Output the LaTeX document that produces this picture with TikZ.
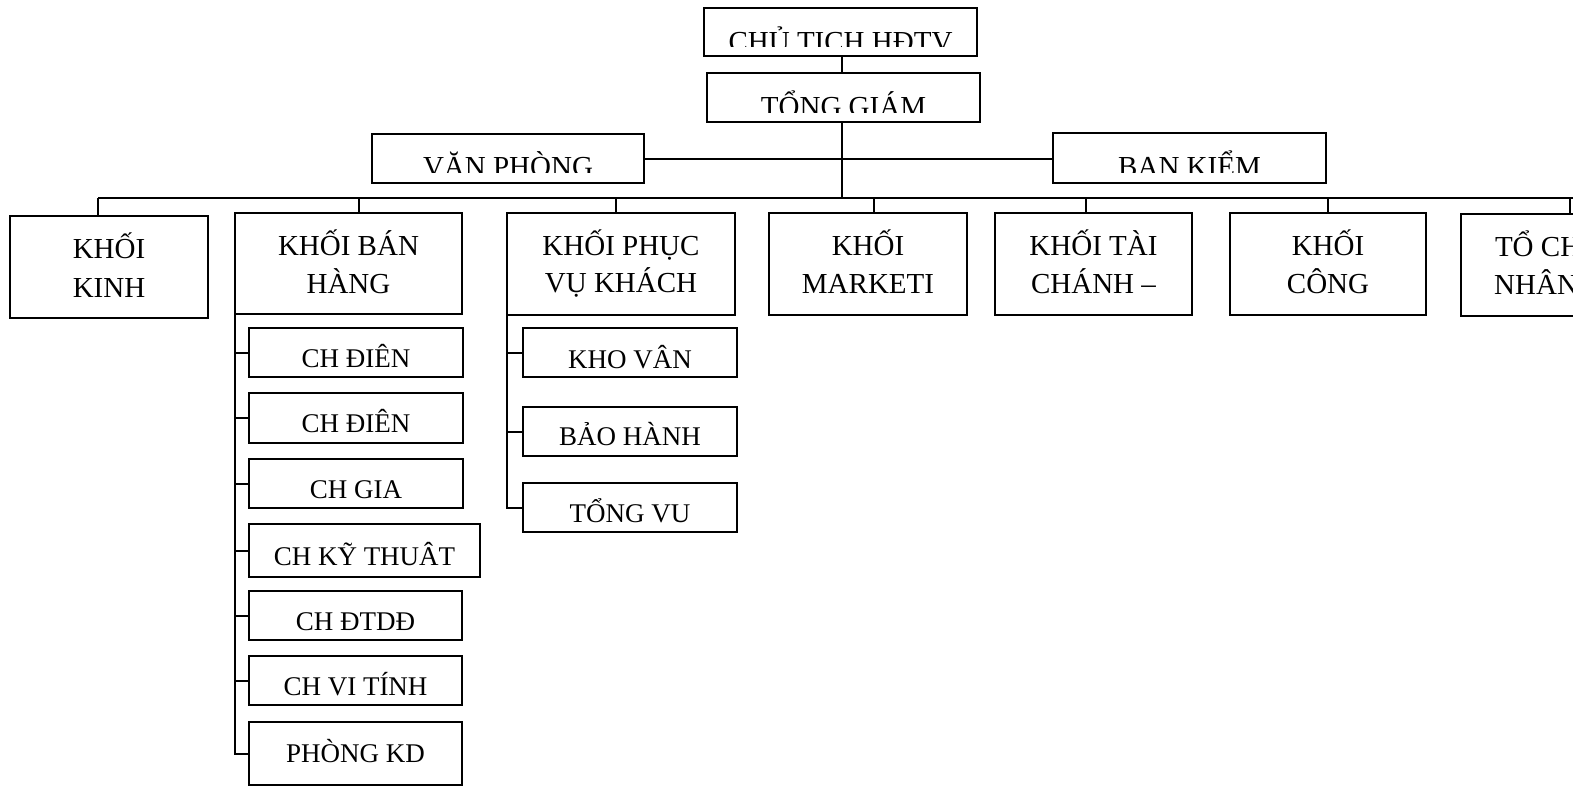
\documentclass[tikz,border=0pt]{standalone}
\usepackage{fontspec}
\setmainfont{Liberation Serif}
\usetikzlibrary{fit}
\tikzset{
  box/.style={draw, line width=1pt, inner sep=0pt, outer sep=0pt},
  link/.style={line width=1pt},
  big/.style={font=\fontsize{14.5}{17}\selectfont, inner sep=0pt, anchor=base},
  small/.style={font=\fontsize{13.5}{16}\selectfont, inner sep=0pt, anchor=base},
}
% #1 style, #2 name, #3 x1, #4 y1, #5 x2, #6 clip y, #7 baseline y, #8 text
\newcommand{\lbl}[8]{\begin{scope}\clip (#3,#4) rectangle (#5,#6);
  \node[#1] (#2) at ({(#3+#5)/2},#7) {#8};\end{scope}}
\begin{document}
\begin{tikzpicture}[x=0.5pt,y=-0.5pt]
\useasboundingbox (0,0) rectangle (1573,787);
\clip (0,0) rectangle (1573,787);

% top level
\node[box, fit={(704,8) (977,56)}] (cth) {};
\lbl{big}{cth-t}{704}{8}{977}{46}{51}{CHỦ TICH HĐTV}
\node[box, fit={(707,73) (980,122)}] (tgd) {};
\lbl{big}{tgd-t}{707}{73}{980}{112}{116}{TỔNG GIÁM}
\node[box, fit={(372,134) (644,183)}] (vp) {};
\lbl{big}{vp-t}{372}{134}{644}{172}{176}{VĂN PHÒNG}
\node[box, fit={(1053,133) (1326,183)}] (bk) {};
\lbl{big}{bk-t}{1053}{133}{1326}{172}{176.5}{BAN KIỂM}

% divisions
\node[box, fit={(10,216) (208,318)}] (kk) {};
\lbl{big}{kk-a}{10}{216}{208}{310}{258}{KHỐI}
\lbl{big}{kk-b}{10}{216}{208}{310}{297}{KINH}
\node[box, fit={(235,213) (462,314)}] (kbh) {};
\lbl{big}{kbh-a}{235}{213}{462}{306}{255}{KHỐI BÁN}
\lbl{big}{kbh-b}{235}{213}{462}{306}{293}{HÀNG}
\node[box, fit={(507,213) (735,315)}] (kpv) {};
\lbl{big}{kpv-a}{507}{213}{735}{307}{255}{KHỐI PHỤC}
\lbl{big}{kpv-b}{507}{213}{735}{307}{292}{VỤ KHÁCH}
\node[box, fit={(769,213) (967,315)}] (kmk) {};
\lbl{big}{kmk-a}{769}{213}{967}{307}{255}{KHỐI}
\lbl{big}{kmk-b}{769}{213}{967}{307}{293}{MARKETI}
\node[box, fit={(995,213) (1192,315)}] (ktc) {};
\lbl{big}{ktc-a}{995}{213}{1192}{307}{255}{KHỐI TÀI}
\lbl{big}{ktc-b}{995}{213}{1192}{307}{293}{CHÁNH –}
\node[box, fit={(1230,213) (1426,315)}] (kcn) {};
\lbl{big}{kcn-a}{1230}{213}{1426}{307}{255}{KHỐI}
\lbl{big}{kcn-b}{1230}{213}{1426}{307}{293}{CÔNG}
\node[box, fit={(1461,214) (1657,316)}] (tch) {};
\lbl{big}{tch-a}{1461}{214}{1657}{308}{256}{TỔ CHỨC}
\lbl{big}{tch-b}{1461}{214}{1657}{308}{294}{NHÂN SỰ}

% sales stores
\node[box, fit={(249,328) (463,377)}] (ch1) {};
\lbl{small}{ch1-t}{249}{328}{463}{369}{367}{CH ĐIÊN}
\node[box, fit={(249,393) (463,443)}] (ch2) {};
\lbl{small}{ch2-t}{249}{393}{463}{435}{432}{CH ĐIÊN}
\node[box, fit={(249,459) (463,508)}] (ch3) {};
\lbl{small}{ch3-t}{249}{459}{463}{500}{498}{CH GIA}
\node[box, fit={(249,524) (480,577)}] (ch4) {};
\lbl{small}{ch4-t}{249}{524}{480}{568}{565}{CH KỸ THUÂT}
\node[box, fit={(249,591) (462,640)}] (ch5) {};
\lbl{small}{ch5-t}{249}{591}{462}{632}{630}{CH ĐTDĐ}
\node[box, fit={(249,656) (462,705)}] (ch6) {};
\lbl{small}{ch6-t}{249}{656}{462}{697}{695}{CH VI TÍNH}
\node[box, fit={(249,722) (462,785)}] (ch7) {};
\lbl{small}{ch7-t}{249}{722}{462}{777}{762}{PHÒNG KD}

% customer service
\node[box, fit={(523,328) (737,377)}] (kv) {};
\lbl{small}{kv-t}{523}{328}{737}{370}{368}{KHO VÂN}
\node[box, fit={(523,407) (737,456)}] (bh) {};
\lbl{small}{bh-t}{523}{407}{737}{448}{445}{BẢO HÀNH}
\node[box, fit={(523,483) (737,532)}] (tv) {};
\lbl{small}{tv-t}{523}{483}{737}{524}{522}{TỔNG VU}

% connectors
\coordinate (axis) at (842,0);
\coordinate (busL) at (98,198);
\coordinate (busR) at (1573,198);
\draw[link] (cth.south -| axis) -- (tgd.north -| axis);
\draw[link] (tgd.south -| axis) -- (busL -| axis);
\draw[link] (vp.east) -- (vp.east -| bk.west);
\draw[link] (busL) -- (busR);
\coordinate (dkk) at (98,198);
\coordinate (dkbh) at (359,198);
\coordinate (dkpv) at (616,198);
\coordinate (dkmk) at (874,198);
\coordinate (dktc) at (1086,198);
\coordinate (dkcn) at (1328,198);
\coordinate (dtch) at (1570,198);
\draw[link] (dkk) -- (dkk |- kk.north);
\draw[link] (dkbh) -- (dkbh |- kbh.north);
\draw[link] (dkpv) -- (dkpv |- kpv.north);
\draw[link] (dkmk) -- (dkmk |- kmk.north);
\draw[link] (dktc) -- (dktc |- ktc.north);
\draw[link] (dkcn) -- (dkcn |- kcn.north);
\draw[link] (dtch) -- (dtch |- tch.north);
\foreach \c in {ch1,ch2,ch3,ch4,ch5,ch6,ch7}
  \draw[link] (kbh.south west) |- (\c.west);
\foreach \c in {kv,bh,tv}
  \draw[link] (kpv.south west) |- (\c.west);
\end{tikzpicture}
\end{document}
